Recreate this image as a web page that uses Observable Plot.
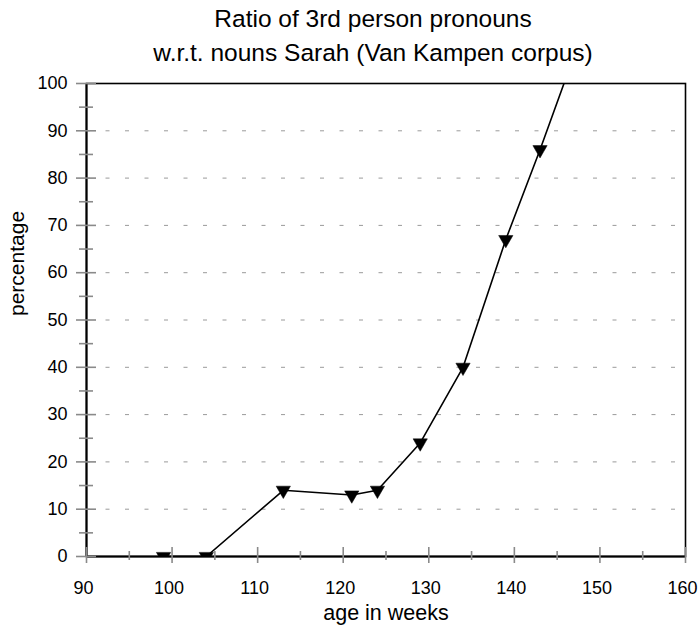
<!DOCTYPE html>
<html><head><meta charset="utf-8">
<script src="https://cdn.jsdelivr.net/npm/d3@7"></script>
<script src="https://cdn.jsdelivr.net/npm/@observablehq/plot@0.6"></script>
<style>body{margin:0;background:#fff;} svg{display:block;}</style>
</head><body>
<div id="chart"></div>
<script>
const weeks = [99, 104, 113, 121, 124, 129, 134, 139, 143, 148];
const percentage = [0, 0, 14, 13, 14, 24, 40, 67, 86, 111];
const xTicks = [90, 100, 110, 120, 130, 140, 150, 160];
const xMinor = [95, 105, 115, 125, 135, 145, 155];
const yTicks = [0, 10, 20, 30, 40, 50, 60, 70, 80, 90, 100];
const yMinor = [5, 15, 25, 35, 45, 55, 65, 75, 85, 95];
const gridVals = [10, 20, 30, 40, 50, 60, 70, 80, 90];
const titleLines = ["Ratio of 3rd person pronouns", "w.r.t. nouns Sarah (Van Kampen corpus)"];

const data = weeks.map((w, i) => ({week: w, pct: percentage[i]}));
const font = "Liberation Sans, Arial, sans-serif";
const W = 699, H = 629, mL = 86, mR = 14, mT = 83, mB = 73;
const pw = W - mL - mR, ph = H - mT - mB;

const chart = Plot.plot({
  width: W, height: H,
  marginLeft: mL, marginRight: mR, marginTop: mT, marginBottom: mB,
  style: {fontFamily: font, fontSize: "18px", background: "#fff", color: "#000"},
  x: {domain: [90, 160], axis: null},
  y: {domain: [0, 100], axis: null},
  marks: [
    Plot.gridY(gridVals, {stroke: "#9a9a9a", strokeOpacity: 1, strokeWidth: 1, strokeDasharray: "4,15.5"}),
    Plot.line(data, {x: "week", y: "pct", stroke: "#000", strokeWidth: 1.6, clip: true}),
    Plot.dot(data, {x: "week", y: "pct", symbol: "triangle", rotate: 180, r: 5.3, fill: "#000", stroke: "#000", strokeWidth: 0.5, clip: true}),
    Plot.frame({stroke: "#000", strokeWidth: 1.6}),
    Plot.ruleY([0], {stroke: "#000", strokeWidth: 2}),
    Plot.ruleX([90], {stroke: "#000", strokeWidth: 2}),
    Plot.tickX(xTicks, {x: d => d, stroke: "#8a8a8a", strokeWidth: 1.6, insetTop: ph - 9, insetBottom: -7}),
    Plot.tickX(xMinor, {x: d => d, stroke: "#8a8a8a", strokeWidth: 1.6, insetTop: ph - 5, insetBottom: -4}),
    Plot.tickY(yTicks, {y: d => d, stroke: "#8a8a8a", strokeWidth: 1.6, insetLeft: -10, insetRight: pw - 10}),
    Plot.tickY(yMinor, {y: d => d, stroke: "#8a8a8a", strokeWidth: 1.6, insetLeft: -7, insetRight: pw - 7}),
    Plot.axisX(xTicks, {label: null, tickSize: 0, tickPadding: 25, dx: -3, fontSize: 18, fill: "#000", tickFormat: d => String(d)}),
    Plot.axisY(yTicks, {label: null, tickSize: 0, tickPadding: 19, fontSize: 18, fill: "#000", tickFormat: d => String(d)}),
    Plot.text(["percentage"], {frameAnchor: "left", lineAnchor: "middle", rotate: -90, dx: -69, dy: -4, fontSize: 21, fill: "#000"}),
    Plot.text(["age in weeks"], {frameAnchor: "bottom", lineAnchor: "middle", dy: 57, fontSize: 21.5, fill: "#000"}),
    Plot.text([titleLines[0]], {frameAnchor: "top", lineAnchor: "middle", dx: -13, dy: -64, fontSize: 24.5, fill: "#000"}),
    Plot.text([titleLines[1]], {frameAnchor: "top", lineAnchor: "middle", dx: -13, dy: -30.5, fontSize: 24.5, fill: "#000"})
  ]
});
document.getElementById("chart").appendChild(chart);
</script>
</body></html>
